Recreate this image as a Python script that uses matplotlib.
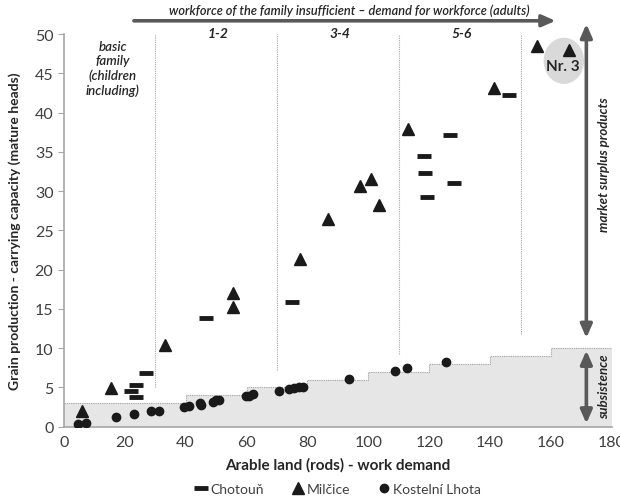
import matplotlib.pyplot as plt
from matplotlib.patches import Ellipse

plt.rcParams['font.family'] = ['Lato', 'DejaVu Sans']

# data
chotoun_x = [21.9, 23.8, 23.6, 26.9, 46.8, 74.9, 118.4, 118.7, 119.2, 126.8, 128.2, 146.2]
chotoun_y = [4.5, 5.3, 3.8, 6.9, 13.9, 15.85, 34.5, 32.3, 29.2, 37.1, 31.0, 42.3]

milcice_x = [5.8, 15.4, 33.1, 55.5, 55.5, 77.6, 86.7, 97.3, 100.9, 103.6, 112.9, 141.3, 155.5, 165.9]
milcice_y = [2.05, 4.96, 10.4, 15.3, 17.0, 21.4, 26.4, 30.6, 31.6, 28.2, 37.9, 43.1, 48.5, 48.0]

lhota_x = [4.5, 7.2, 17.0, 23.1, 28.5, 31.3, 39.3, 41.1, 44.8, 45.2, 49.0, 50.1, 51.1,
           59.7, 60.8, 62.1, 70.6, 74.1, 75.7, 77.1, 78.4, 93.8, 108.9, 112.7, 125.5]
lhota_y = [0.35, 0.45, 1.25, 1.6, 1.95, 2.05, 2.55, 2.65, 3.05, 2.8, 3.1, 3.35, 3.45,
           3.9, 3.9, 4.15, 4.6, 4.8, 4.95, 5.0, 5.05, 6.1, 7.1, 7.45, 8.3]

# subsistence level (step)
step_x = [0, 40, 60, 80, 100, 120, 140, 160, 180]
step_y = [3, 4, 5, 6, 7, 8, 9, 10, 10]

# workforce boundaries and group labels
bound_x = [30, 70, 110, 150]
bound_ymin = [5, 7.2, 9.2, 11.8]
group_x = [50.5, 90.5, 130.5]
group_lab = ['1-2', '3-4', '5-6']

dark = '#1a1a1a'
arrow_col = '#595959'
txt = '#262626'

fig = plt.figure(figsize=(6.2, 5.02), dpi=100)
ax = fig.add_axes([0.103, 0.148, 0.884, 0.782])

ax.fill_between(step_x, 0, step_y, step='post', color='#e6e6e6', lw=0, zorder=0)
ax.step(step_x, step_y, where='post', color='#a6a6a6', lw=0.8, ls=(0, (1, 1)), zorder=1)

for bx, bm in zip(bound_x, bound_ymin):
    ax.plot([bx, bx], [bm, 50], color='#a6a6a6', lw=0.8, ls=(0, (1, 1)), zorder=1)

ax.plot(chotoun_x, chotoun_y, ls='none', marker='_', ms=10, mew=3.5, color=dark,
        label='Chotouň', zorder=3)
ax.plot(milcice_x, milcice_y, ls='none', marker='^', ms=9, color=dark,
        label='Milčice', zorder=3)
ax.plot(lhota_x, lhota_y, ls='none', marker='o', ms=6, color=dark,
        label='Kostelní Lhota', zorder=3)

ax.set_xlim(0, 180)
ax.set_ylim(0, 50)
ax.set_xticks(range(0, 181, 20))
ax.set_yticks(range(0, 51, 5))
for s in ['top', 'right']:
    ax.spines[s].set_visible(False)
for s in ['left', 'bottom']:
    ax.spines[s].set_color('#a6a6a6')
    ax.spines[s].set_linewidth(1.2)
ax.tick_params(axis='both', colors='#a6a6a6', labelcolor='#404040', labelsize=11.5, length=4)
ax.tick_params(axis='x', length=0, pad=6)

ax.set_xlabel('Arable land (rods) - work demand', fontsize=11, fontweight='bold',
              color=txt, labelpad=6)
ax.set_ylabel('Grain production - carrying capacity (mature heads)', fontsize=10,
              fontweight='bold', color=txt, labelpad=10)

# annotations
ax.annotate('', xy=(161.5, 51.7), xytext=(23, 51.7), annotation_clip=False,
            arrowprops=dict(arrowstyle='-|>,head_length=0.8,head_width=0.35', lw=2.6,
                            color=arrow_col, shrinkA=0, shrinkB=0))
ax.text(93.8, 53.1, 'workforce of the family insufficient – demand for workforce (adults)',
        ha='center', va='center', style='italic', fontweight='semibold', fontsize=9.2,
        color=txt, clip_on=False)
for gx, gl in zip(group_x, group_lab):
    ax.text(gx, 50.1, gl, ha='center', va='center', style='italic', fontweight='bold',
            fontsize=10, color=txt)
ax.text(16, 45.7, 'basic\nfamily\n(children\nincluding)', ha='center', va='center',
        style='italic', fontweight='semibold', fontsize=9.5, color=txt, linespacing=1.2)

ax.add_patch(Ellipse((164.2, 46.6), 12.8, 5.7, color='#d9d9d9', zorder=2))
ax.text(163.8, 45.9, 'Nr. 3', ha='center', va='center', fontweight='bold', fontsize=11,
        color=txt, zorder=4)

ax.annotate('', xy=(171.6, 11.3), xytext=(171.6, 51.3), annotation_clip=False,
            arrowprops=dict(arrowstyle='<|-|>,head_length=0.8,head_width=0.35', lw=2.6,
                            color=arrow_col, shrinkA=0, shrinkB=0))
ax.annotate('', xy=(171.6, 0.4), xytext=(171.6, 9.7), annotation_clip=False,
            arrowprops=dict(arrowstyle='<|-|>,head_length=0.8,head_width=0.35', lw=2.6,
                            color=arrow_col, shrinkA=0, shrinkB=0))
ax.text(177.4, 33.5, 'market surplus products', rotation=90, ha='center', va='center',
        style='italic', fontweight='bold', fontsize=9.5, color=txt, clip_on=False)
ax.text(177.4, 5.2, 'subsistence', rotation=90, ha='center', va='center',
        style='italic', fontweight='bold', fontsize=9.5, color=txt, clip_on=False)

fig.legend(loc='center', bbox_to_anchor=(0.545, 0.024), ncol=3, frameon=False,
           fontsize=10, handletextpad=0.2, columnspacing=2.0, handlelength=0.9,
           labelcolor='#404040')

fig.savefig('out.png', dpi=100)
